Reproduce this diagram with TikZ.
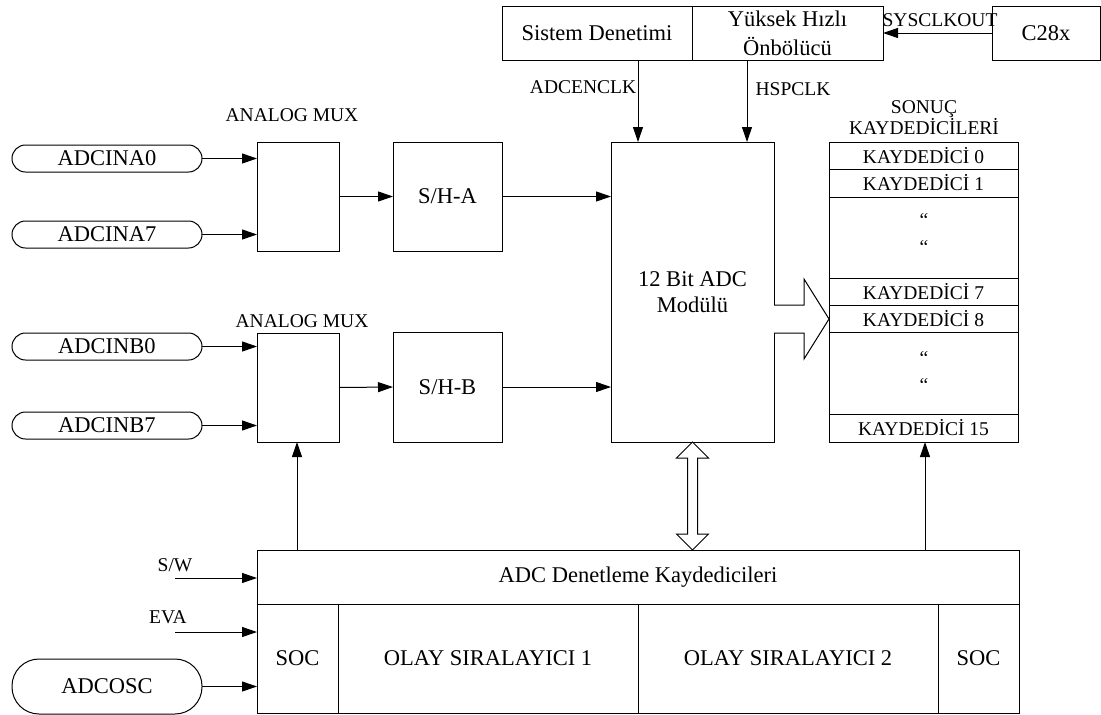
\documentclass[tikz,border=0pt]{standalone}
\usepackage{fontspec}
\setmainfont{Liberation Serif}
\usetikzlibrary{arrows.meta,calc}
\begin{document}
\begin{tikzpicture}[x=1pt,y=-1pt,
  every node/.style={inner sep=0pt, outer sep=0pt},
  big/.style={font=\fontsize{22.5}{26}\selectfont},
  small/.style={font=\fontsize{19.5}{21}\selectfont},
  box/.style={draw, line width=1pt, anchor=north west, align=center},
  pill/.style={box, rounded corners=13.5pt},
  arr/.style={line width=1pt, -{Triangle[length=15pt,width=10pt]}},
  hollow/.style={line width=1pt, fill=white, line join=miter}]
\useasboundingbox (0,0) rectangle (1101,715);

% top boxes
\node[box,big,minimum width=190,minimum height=54] (sys) at (502,6) {Sistem Denetimi};
\node[box,minimum width=191,minimum height=54,font=\fontsize{22.5}{29}\selectfont] (hsp) at (692,6) {Yüksek Hızlı\\Önbölücü};
\node[box,big,minimum width=108,minimum height=54] (c28) at (992,6) {C28x};

% main blocks
\node[box,minimum width=163,minimum height=300,font=\fontsize{22.5}{26}\selectfont] (adc) at (611,142) {12 Bit ADC\\Modülü};
\node[box,big,minimum width=109,minimum height=109] (sha) at (393,142) {S/H-A};
\node[box,big,minimum width=109,minimum height=110] (shb) at (393,332) {S/H-B};
\node[box,minimum width=82,minimum height=109] (muxa) at (257,142) {};
\node[box,minimum width=82,minimum height=109] (muxb) at (257,333) {};
\node[small] (muxal) at (292,115) {ANALOG MUX};
\node[small] (muxbl) at (302,321) {ANALOG MUX};

% inputs
\node[pill,big,minimum width=190,minimum height=27] (ina0) at (12,145) {ADCINA0};
\node[pill,big,minimum width=190,minimum height=27] (ina7) at (12,221) {ADCINA7};
\node[pill,big,minimum width=190,minimum height=27] (inb0) at (12,333) {ADCINB0};
\node[pill,big,minimum width=190,minimum height=27] (inb7) at (12,412) {ADCINB7};
\node[box,big,rounded corners=27pt,minimum width=190,minimum height=55] (osc) at (12,659) {ADCOSC};

% result registers
\node[small,align=center] (regl) at (924,118) {SONUÇ\\KAYDEDİCİLERİ};
\node[box,small,minimum width=189,minimum height=27] (r0) at (829,142) {KAYDEDİCİ 0};
\node[box,small,minimum width=189,minimum height=28] (r1) at (829,169) {KAYDEDİCİ 1};
\node[box,minimum width=189,minimum height=81] (g1) at (829,197) {};
\node[box,small,minimum width=189,minimum height=27] (r7) at (829,278) {KAYDEDİCİ 7};
\node[box,small,minimum width=189,minimum height=27] (r8) at (829,305) {KAYDEDİCİ 8};
\node[box,minimum width=189,minimum height=82] (g2) at (829,332) {};
\node[box,small,minimum width=189,minimum height=28] (r15) at (829,414) {KAYDEDİCİ 15};
\node[small] (q1) at (924,220) {“};
\node[small] (q2) at (924,247) {“};
\node[small] (q3) at (924,358) {“};
\node[small] (q4) at (924,385) {“};

% control block
\node[box,big,minimum width=762,minimum height=54] (ctrl) at (257,550) {ADC Denetleme Kaydedicileri};
\node[box,big,minimum width=81,minimum height=109] (soc1) at (257,604) {SOC};
\node[box,big,minimum width=300,minimum height=109] (ol1) at (338,604) {OLAY SIRALAYICI 1};
\node[box,big,minimum width=300,minimum height=109] (ol2) at (638,604) {OLAY SIRALAYICI 2};
\node[box,big,minimum width=81,minimum height=109] (soc2) at (938,604) {SOC};

% clock connectors
\coordinate (ax) at (638,0);
\coordinate (hx) at (747,0);
\draw[arr] (sys.south -| ax) -- (adc.north -| ax);
\draw[arr] (hsp.south -| hx) -- (adc.north -| hx);
\draw[arr] (c28.west) -- (hsp.east);
\node[small] (adcenl) at (583,87) {ADCENCLK};
\node[small] (hspl) at (793,89) {HSPCLK};
\node[small] (sysl) at (940,20) {SYSCLKOUT};

% inputs to mux
\draw[arr] (ina0.east) -- (ina0.east -| muxa.west);
\draw[arr] (ina7.east) -- (ina7.east -| muxa.west);
\draw[arr] (inb0.east) -- (inb0.east -| muxb.west);
\draw[arr] (inb7.east) -- (inb7.east -| muxb.west);

% mux to S/H to ADC
\draw[arr] (muxa.east) -- (sha.west);
\draw[arr] (muxb.east) -- (shb.west);
\draw[arr] (sha.east) -- (sha.east -| adc.west);
\draw[arr] (shb.east) -- (shb.east -| adc.west);

% big arrow ADC -> registers
\coordinate (bt) at (829,319);
\draw[hollow] ($(adc.east |- bt)+(0,-14)$) -- ($(bt)+(-25,-14)$) -- ($(bt)+(-25,-40)$) -- (bt)
  -- ($(bt)+(-25,40)$) -- ($(bt)+(-25,14)$) -- ($(adc.east |- bt)+(0,14)$);

% double arrow ADC <-> control
\draw[hollow] (adc.south) -- ++(16,16) -- ++(-11,0) -- ($(adc.south |- ctrl.north)+(5,-16)$) -- ++(11,0)
  -- (adc.south |- ctrl.north) -- ++(-16,-16) -- ++(11,0) -- ($(adc.south)+(-5,16)$) -- ++(-11,0) -- cycle;

% control to mux and registers
\coordinate (mx) at (297,0);
\coordinate (rx) at (925,0);
\draw[arr] (ctrl.north -| mx) -- (muxb.south -| mx);
\draw[arr] (ctrl.north -| rx) -- (r15.south -| rx);

% trigger inputs
\coordinate (sw) at (175,578);
\coordinate (eva) at (175,632);
\draw[arr] (sw) -- (sw -| ctrl.west);
\draw[arr] (eva) -- (eva -| ctrl.west);
\draw[arr] (osc.east) -- (osc.east -| ctrl.west);
\node[small] (swl) at (175,565) {S/W};
\node[small] (eval) at (168,617) {EVA};
\end{tikzpicture}
\end{document}
